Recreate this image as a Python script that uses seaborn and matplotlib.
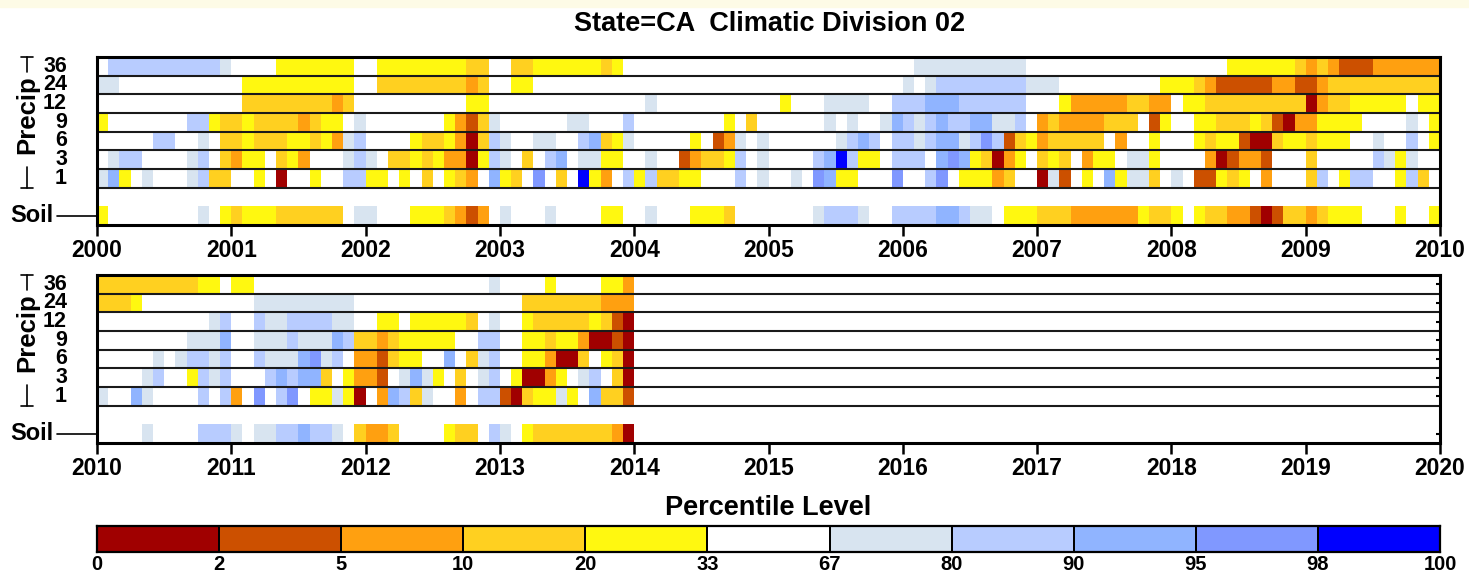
import numpy as np
import matplotlib
matplotlib.use("Agg")
import matplotlib.pyplot as plt
from matplotlib.colors import ListedColormap
from matplotlib.patches import Rectangle
import seaborn as sns

# codes: 0..4 dry classes, '.' = 33-67 (normal), 6..9 and 'a' wet classes
row_labels = ['36', '24', '12', '9', '6', '3', '1']
level_edges = ['0', '2', '5', '10', '20', '33', '67', '80', '90', '95', '98', '100']
level_colors = ['#a00000', '#cc5000', '#ffa010', '#ffd020', '#fff810', '#ffffff',
                '#d8e4f0', '#b8ccff', '#90b4ff', '#8098ff', '#0000ff']

# ---- 2000-2009, one 12-char block per year ----
p36_a = ".77777777776 ....4444444. .4444444433. .3344444434. ............ ............ .6666666666. ............ .....4444443 232111222222"
p24_a = "66.......... .4444444444. .3333333323. .44......... ............ ............ 6.6777777776 66.........4 443211111221 123333333333"
p12_a = "............ .3333333323. .........44. ............ .6.......... .4...6666..7 77888777777. ..4222223322 .44333333333 023344444.44"
p09_a = "4.......7743 3433332344.6 .......42136 ......66...7 ........4.3. .....6.6..68 76787788667. 232222333.14 ..4433343102 24444....6.4"
p06_a = ".....77..6.3 343334434267 ....43342037 6..66..78346 .....4.126.6 ......6787.7 767886797134 233333.2..4. ..4344100344 3444..6..7.4"
p03_a = ".677....67.3 244.342...67 6.3343422047 6.3.78.6644. .6..123347.6 ....78a744.7 77.89843024. 343.244.664. ...201221... 3.....7646.."
p01_a = "684.6...6733 ..4.0..4..77 44.4.3.432.8 43.9.3.a42.7 473344...7.6 ..6.9844...9 ..79.44423.. 061.4.84663. 6.11434.2... 37.477..473."
soil_a = "4........6.4 3444333333.6 6...4443212. 6...6....44. .6...4443... ....67776..7 77788766.444 333222222433 4.4332210133 23444...4..4"

# ---- 2010-2013 ----
p36_b = "33333333344. 44.......... ...........6 ....4....442"
p24_b = "3334........ ..666666666. ............ ..3333333222"
p12_b = "..........67 ..766777766. .44.444443.6 ..4333334310"
p09_b = "........6668 ..6667666873 32344444..77 ..4434420010"
p06_b = ".....6.67767 ..76668967.2 21344..8.367 ..442003.430"
p03_b = "....67..4767 ...787883.42 21.6864.3.67 .40024.67.30"
p01_b = "6..86....7.7 2.9.79.44640 .28736..2.77 1034464.8331"
soil_b = "....6....777 6.66778776.3 223....433.7 6.4333333320"

CODE = {str(k): k for k in range(10)}
CODE['.'] = 5
CODE['a'] = 10


def build(rows, soil, n_months=120):
    mat = np.full((9, n_months), np.nan)
    for i, r in enumerate(rows + [soil]):
        vals = [CODE[c] for c in r.replace(' ', '')]
        row = i if i < 7 else 8
        mat[row, :len(vals)] = vals
    return mat


sns.set_theme(style="white", rc={'axes.edgecolor': 'black', 'text.color': 'black',
                                 'xtick.color': 'black', 'ytick.color': 'black'})
plt.rcParams['font.family'] = ['Liberation Sans', 'DejaVu Sans']
plt.rcParams['font.weight'] = 'bold'

cmap = ListedColormap(level_colors)
W, H = 1469, 578
fig = plt.figure(figsize=(W / 100, H / 100), dpi=100)
fig.patches.append(Rectangle((0, 1 - 7 / H), 1, 7 / H, transform=fig.transFigure,
                             color='#fdfbe6', zorder=0))


def panel(top_px, mat, start_year):
    ax = fig.add_axes([97 / W, 1 - (top_px + 168) / H, 1343 / W, 168 / H])
    sns.heatmap(mat, ax=ax, cmap=cmap, vmin=-0.5, vmax=10.5, cbar=False,
                xticklabels=False, yticklabels=False)
    for y in range(1, 8):
        ax.axhline(y, color='#1a1a1a', lw=1.5)
    for s in ax.spines.values():
        s.set_visible(True)
        s.set_linewidth(2.2)
        s.set_color('black')
    ax.set_xticks(np.arange(0, 121, 12))
    ax.set_xticklabels([str(start_year + k) for k in range(11)], fontsize=16.5, fontweight='bold')
    ax.tick_params(axis='x', bottom=True, length=8, width=1.8, direction='out', pad=2)
    ax.set_yticks([0.5, 1.5, 2.5, 3.5, 4.5, 5.5, 6.5, 8.5])
    ax.set_yticklabels([])
    ax.tick_params(axis='y', left=True, right=True, length=3, width=1.5, direction='in')

    tr = ax.get_yaxis_transform()
    for i, lab in enumerate(row_labels):
        ax.text(-30 / 1343, i + 0.5, lab, transform=tr, ha='right', va='center',
                fontsize=15.5, fontweight='bold')
    bx = -70 / 1343
    ax.text(bx, 3.1, 'Precip', transform=tr, rotation=90, ha='center', va='center',
            fontsize=18.5, fontweight='bold')
    ax.plot([bx, bx], [0, 0.8], transform=tr, color='black', lw=1.2, clip_on=False)
    ax.plot([bx, bx], [5.9, 7], transform=tr, color='black', lw=1.2, clip_on=False)
    for yy in (0, 7):
        ax.plot([bx - 6 / 1343, bx + 6 / 1343], [yy, yy], transform=tr, color='black',
                lw=1.2, clip_on=False)
    ax.text(-44 / 1343, 8.5, 'Soil', transform=tr, ha='right', va='center',
            fontsize=17, fontweight='bold')
    ax.plot([-40 / 1343, 0], [8.5, 8.5], transform=tr, color='black', lw=1.2, clip_on=False)
    return ax


top = build([p36_a, p24_a, p12_a, p09_a, p06_a, p03_a, p01_a], soil_a)
bot = build([p36_b, p24_b, p12_b, p09_b, p06_b, p03_b, p01_b], soil_b)
panel(57, top, 2000)
panel(275, bot, 2010)

# colour key
cax = fig.add_axes([97 / W, 1 - 552 / H, 1343 / W, 26 / H])
sns.heatmap(np.arange(11)[None, :], ax=cax, cmap=cmap, vmin=-0.5, vmax=10.5, cbar=False,
            linewidths=1.2, linecolor='black', xticklabels=False, yticklabels=False)
for s in cax.spines.values():
    s.set_visible(True)
    s.set_linewidth(1.6)
    s.set_color('black')
cax.set_xticks(np.arange(12))
cax.set_xticklabels(level_edges, fontsize=14.5, fontweight='bold')
cax.tick_params(axis='x', bottom=False, length=0, pad=2)

fig.text(768 / W, 1 - 508 / H, 'Percentile Level', ha='center', va='center',
         fontsize=19.5, fontweight='bold')
fig.text(770 / W, 1 - 24 / H, 'State=CA  Climatic Division 02', ha='center', va='center',
         fontsize=19.5, fontweight='bold')

fig.savefig('out.png', dpi=100)
